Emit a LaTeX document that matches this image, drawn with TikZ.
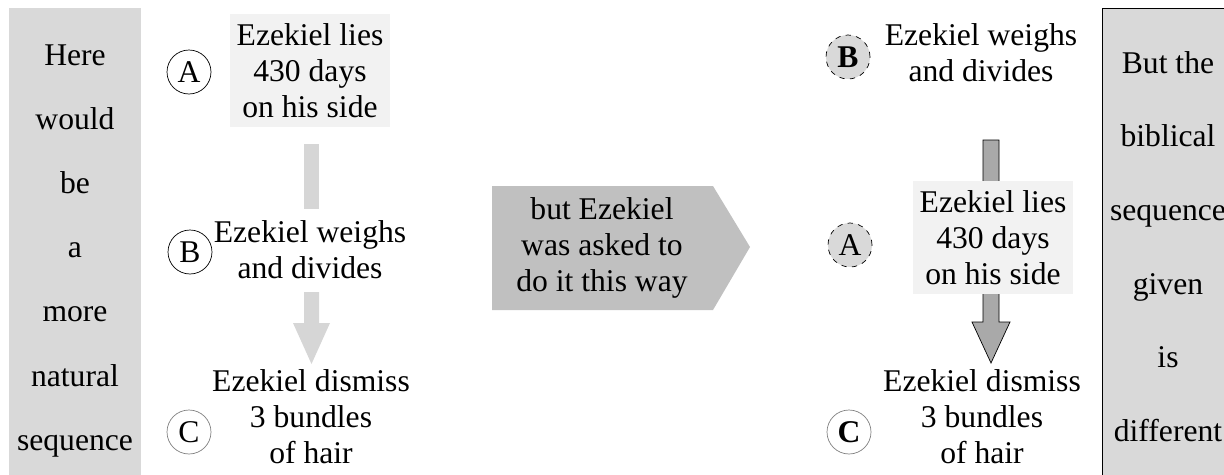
\documentclass[tikz,border=0pt]{standalone}
\usepackage{fontspec}
\setmainfont{Liberation Serif}
\usepackage{xcolor}
\usetikzlibrary{positioning}
\definecolor{colgray}{HTML}{D9D9D9}
\definecolor{boxgray}{HTML}{F2F2F2}
\definecolor{signalgray}{HTML}{C0C0C0}
\definecolor{lightarrow}{HTML}{D6D6D6}
\definecolor{darkarrow}{HTML}{A9A9A9}

\begin{document}
\begin{tikzpicture}[
  x=0.02cm, y=-0.02cm,
  every node/.style={font=\fontsize{18}{20.5}\selectfont},
  word/.style={anchor=base, inner sep=0pt},
  txt/.style={align=center, inner sep=0pt},
  daybox/.style={fill=boxgray, align=center, minimum width=3.2cm, minimum height=2.28cm, inner sep=0pt},
  letter/.style={circle, draw, thin, minimum size=0.88cm, inner sep=0pt},
  changed/.style={letter, dashed, fill=colgray},
  lastone/.style={letter, draw=gray}
]
\useasboundingbox (0,0) rectangle (1224,474);

\fill[colgray] (9,8) rectangle (141,480);
\foreach \w [count=\i from 0] in {Here,would,be,a,more,natural,sequence}
  \node[word] (left\i) at (75,65+64.2*\i) {\w};

\node (dayL) [daybox] at (310,70.5) {Ezekiel lies\\430 days\\on his side};
\node (weighL) [txt] at (310,250) {Ezekiel weighs\\and divides};
\node (hairL) [txt] at (311,417) {Ezekiel dismiss\\3 bundles\\of hair};
\node (cA) [letter] at (189,72) {A};
\node (cB) [letter] at (190,252) {B};
\node (cC) [lastone] at (189,432) {C};

\fill[lightarrow] (304,144) rectangle (319,209);
\fill[lightarrow] (304,292) -- (319,292) -- (319,323) -- (330,323) -- (311.5,364)
  -- (293,323) -- (304,323) -- cycle;

\fill[signalgray] (492,186) -- (713,186) -- (750,247) -- (713,310) -- (492,310) -- cycle;
\node (asked) [txt] at (602,248) {but Ezekiel\\was asked to\\do it this way};

\filldraw[darkarrow, draw=black, thin] (983,140) -- (999,140) -- (999,322) -- (1010,322)
  -- (991,363) -- (972,322) -- (983,322) -- cycle;
\node (dayR) [daybox] at (993,237.5) {Ezekiel lies\\430 days\\on his side};
\node (weighR) [txt] at (981,53) {Ezekiel weighs\\and divides};
\node (hairR) [txt] at (982,417) {Ezekiel dismiss\\3 bundles\\of hair};
\node (rB) [changed] at (848,57) {\textbf{B}};
\node (rA) [changed] at (850,245) {A};
\node (rC) [lastone] at (849,432) {\textbf{C}};

\filldraw[fill=colgray, draw=black, thin] (1102,8) rectangle (1240,490);
\foreach \w [count=\i from 0] in {But the,biblical,sequence,given,is,different}
  \node[word] (right\i) at (1168,73+73.7*\i) {\w};

\end{tikzpicture}
\end{document}
